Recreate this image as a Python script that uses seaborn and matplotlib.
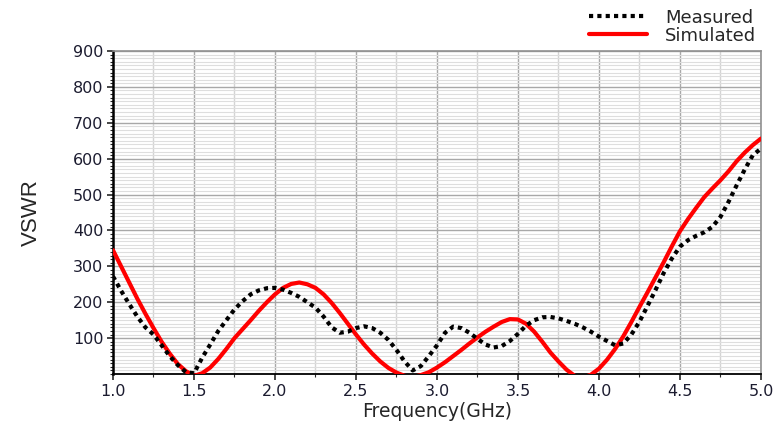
import numpy as np
import pandas as pd
import seaborn as sns
import matplotlib.pyplot as plt
from matplotlib.ticker import MultipleLocator

# frequency grid (GHz) that the values were read at
freq = [1.00, 1.05, 1.10, 1.15, 1.20, 1.25, 1.30, 1.35, 1.40, 1.45,
        1.50, 1.55, 1.60, 1.65, 1.70, 1.75, 1.80, 1.85, 1.90, 1.95,
        2.00, 2.05, 2.10, 2.15, 2.20, 2.25, 2.30, 2.35, 2.40, 2.45,
        2.50, 2.55, 2.60, 2.65, 2.70, 2.75, 2.80, 2.85, 2.90, 2.95,
        3.00, 3.05, 3.10, 3.15, 3.20, 3.25, 3.30, 3.35, 3.40, 3.45,
        3.50, 3.55, 3.60, 3.65, 3.70, 3.75, 3.80, 3.85, 3.90, 3.95,
        4.00, 4.05, 4.10, 4.15, 4.20, 4.25, 4.30, 4.35, 4.40, 4.45,
        4.50, 4.55, 4.60, 4.65, 4.70, 4.75, 4.80, 4.85, 4.90, 4.95,
        5.00]

measured = [272, 232, 195, 160, 130, 110, 80, 50, 25, 5,
            2, 45, 82, 120, 150, 180, 203, 222, 233, 239,
            240, 235, 226, 215, 200, 185, 160, 130, 115, 118,
            128, 133, 128, 115, 95, 67, 35, 10, 22, 50,
            80, 115, 132, 128, 115, 98, 82, 74, 78, 92,
            112, 135, 150, 158, 159, 155, 148, 140, 130, 118,
            104, 92, 80, 85, 110, 146, 190, 235, 282, 322,
            355, 373, 385, 395, 410, 438, 480, 526, 570, 610,
            628]

simulated = [345, 300, 255, 210, 168, 128, 90, 57, 28, 8,
             -5, 2, 18, 42, 70, 100, 125, 150, 176, 200,
             222, 240, 251, 255, 250, 240, 222, 198, 170, 140,
             110, 82, 57, 35, 17, 4, -5, -8, -3, 5,
             18, 33, 50, 67, 85, 102, 118, 132, 145, 153,
             152, 140, 118, 90, 60, 35, 12, -5, -10, -2,
             15, 40, 70, 105, 145, 187, 228, 270, 312, 356,
             398, 432, 463, 493, 517, 540, 565, 593, 617, 638,
             656]

df = pd.DataFrame({'freq': freq, 'Measured': measured, 'Simulated': simulated})

sns.set_style('white')
plt.rcParams['font.family'] = ['DejaVu Sans']

fig = plt.figure(figsize=(7.75, 4.23), dpi=100)
ax = fig.add_axes([0.1458, 0.1158, 0.8361, 0.7636])

sns.lineplot(data=df, x='freq', y='Simulated', ax=ax, color='#ff0000',
             linewidth=3, label='Simulated', zorder=3)
sns.lineplot(data=df, x='freq', y='Measured', ax=ax, color='black',
             linewidth=3.0, linestyle=(0, (1.0, 1.0)), label='Measured', zorder=4)

ax.set_xlim(1.0, 5.0)
ax.set_ylim(0, 900)
ax.set_yticks(range(100, 1000, 100))
ax.xaxis.set_major_locator(MultipleLocator(0.5))
ax.xaxis.set_minor_locator(MultipleLocator(0.25))
ax.yaxis.set_minor_locator(MultipleLocator(10))
ax.xaxis.set_major_formatter(plt.FormatStrFormatter('%.1f'))

# grid
ax.grid(which='major', axis='both', color='#a8a8a8', linewidth=1.0)
ax.grid(which='minor', axis='x', color='#d4d4d4', linewidth=1.0)
ax.grid(which='minor', axis='y', color='#dedede', linewidth=0.8)
ax.set_axisbelow(True)

# spines and ticks
ax.spines['left'].set_color('black')
ax.spines['left'].set_linewidth(1.8)
ax.spines['bottom'].set_color('black')
ax.spines['bottom'].set_linewidth(1.3)
for s in ['top', 'right']:
    ax.spines[s].set_color('#909090')
    ax.spines[s].set_linewidth(1.2)

ax.tick_params(which='major', direction='out', length=4, width=1.2,
               labelsize=11.5, labelcolor='#1c1c30', pad=3,
               left=True, bottom=True)
ax.tick_params(which='minor', direction='out', length=2.5, width=0.8,
               left=True, bottom=True)

ax.set_xlabel('Frequency(GHz)', fontsize=13.5, labelpad=2)
ax.set_ylabel('VSWR', fontsize=16, labelpad=22,
              family=['Liberation Sans Narrow', 'Liberation Sans'])

# legend above the plot, top right
handles, labels = ax.get_legend_handles_labels()
ax.get_legend().remove()
order = [labels.index('Measured'), labels.index('Simulated')]
fig.legend([handles[i] for i in order], [labels[i] for i in order],
           loc='upper right', bbox_to_anchor=(0.99, 1.005), frameon=False,
           fontsize=13, handlelength=3.2, handletextpad=1.0,
           labelspacing=0.0, borderaxespad=0.2)

plt.savefig('out.png', dpi=100)
